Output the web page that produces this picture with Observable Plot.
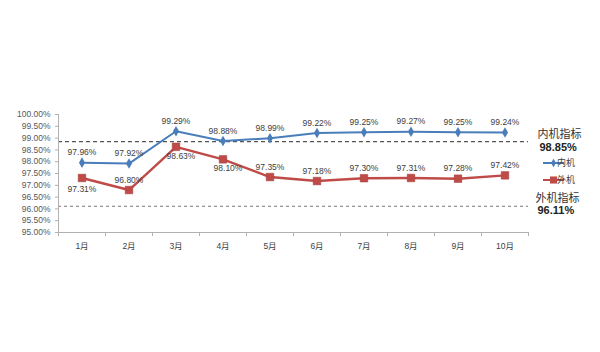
<!DOCTYPE html>
<html><head><meta charset="utf-8">
<script src="https://cdn.jsdelivr.net/npm/d3@7"></script>
<script src="https://cdn.jsdelivr.net/npm/@observablehq/plot@0.6"></script>
<style>
html,body{margin:0;padding:0;background:#fff;}
svg{display:block;}
</style>
</head><body>
<div id="chart"></div>
<script>
const months = ["1月","2月","3月","4月","5月","6月","7月","8月","9月","10月"];
const innerVals = [97.96, 97.92, 99.29, 98.88, 98.99, 99.22, 99.25, 99.27, 99.25, 99.24];
const outerVals = [97.31, 96.80, 98.63, 98.10, 97.35, 97.18, 97.30, 97.31, 97.28, 97.42];
const innerTarget = 98.85;
const outerTarget = 96.11;
const yTicks = [95, 95.5, 96, 96.5, 97, 97.5, 98, 98.5, 99, 99.5, 100];
const seriesNames = ["内机", "外机"];
const targetNames = ["内机指标", "外机指标"];
const outerBelowCenter = new Set([0]);
const outerBelowRight = new Set([2, 3]);

const BLUE = "#4a7ebb", RED = "#be4b48", TXT = "#404040", AX = "#b0b0b0";
const FONT = "'Liberation Sans', 'Noto Sans CJK SC', sans-serif";

const inner = innerVals.map((v, i) => ({i: i + 0.5, v, k: i}));
const outer = outerVals.map((v, i) => ({i: i + 0.5, v, k: i}));
const fmt = v => v.toFixed(2) + "%";

const chart = Plot.plot({
  width: 600, height: 352,
  marginLeft: 58, marginRight: 72, marginTop: 114, marginBottom: 120,
  style: {fontFamily: FONT, fontSize: "8.5px", color: TXT, background: "#fff"},
  x: {domain: [0, 10], axis: null},
  y: {domain: [95, 100], axis: null},
  marks: [
    Plot.ruleY([innerTarget], {stroke: "#555", strokeDasharray: "4,3", strokeWidth: 1.2}),
    Plot.ruleY([outerTarget], {stroke: "#777", strokeDasharray: "3,3", strokeWidth: 1.1}),
    Plot.axisY({ticks: yTicks, tickSize: 3, tickPadding: 5, tickFormat: d => d.toFixed(2) + "%", stroke: AX, fill: "#595959", label: null}),
    Plot.ruleX([0], {stroke: AX}),
    Plot.ruleY([95], {stroke: AX}),
    Plot.axisX({ticks: d3.range(0, 11), tickSize: 4, tickFormat: () => "", stroke: AX, label: null}),
    Plot.axisX({ticks: inner.map(d => d.i), tickSize: 0, tickPadding: 10, tickFormat: (d, k) => months[k], fill: "#404040", label: null}),
    Plot.line(outer, {x: "i", y: "v", stroke: RED, strokeWidth: 2.4}),
    Plot.line(inner, {x: "i", y: "v", stroke: BLUE, strokeWidth: 2}),
    Plot.dot(outer, {x: "i", y: "v", symbol: "square", r: 4.3, fill: RED, stroke: "#a84340", strokeWidth: 0.5}),
    Plot.dot(inner, {x: "i", y: "v", symbol: "diamond", r: 3.2, fill: BLUE}),
    Plot.text(inner, {x: "i", y: "v", text: d => fmt(d.v), dy: -10, fill: TXT}),
    Plot.text(outer.filter(d => !outerBelowCenter.has(d.k) && !outerBelowRight.has(d.k)), {x: "i", y: "v", text: d => fmt(d.v), dy: -10, fill: TXT}),
    Plot.text(outer.filter(d => outerBelowCenter.has(d.k)), {x: "i", y: "v", text: d => fmt(d.v), dy: 11, fill: TXT}),
    Plot.text(outer.filter(d => outerBelowRight.has(d.k)), {x: "i", y: "v", text: d => fmt(d.v), dy: 9, dx: 5, fill: TXT}),
    Plot.text([{t: targetNames[0], v: innerTarget}], {x: () => 10, y: "v", text: "t", dx: 9, dy: -7, textAnchor: "start", fontSize: 11, fill: "#333"}),
    Plot.text([{t: fmt(innerTarget), v: innerTarget}], {x: () => 10, y: "v", text: "t", dx: 11, dy: 6, textAnchor: "start", fontSize: 11, fill: "#222", fontWeight: "bold"}),
    Plot.text([{t: targetNames[1], v: outerTarget}], {x: () => 10, y: "v", text: "t", dx: 7, dy: -8, textAnchor: "start", fontSize: 11, fill: "#333"}),
    Plot.text([{t: fmt(outerTarget), v: outerTarget}], {x: () => 10, y: "v", text: "t", dx: 9, dy: 4, textAnchor: "start", fontSize: 11, fill: "#222", fontWeight: "bold"})
  ]
});

document.getElementById("chart").appendChild(chart);

// legend
const svg = d3.select(chart);
const lg = svg.append("g").attr("font-family", FONT).attr("font-size", 9).attr("fill", "#404040");
const entries = [
  {name: seriesNames[0], color: BLUE, sym: d3.symbolDiamond, size: 22, y: 163},
  {name: seriesNames[1], color: RED, sym: d3.symbolSquare, size: 50, y: 180}
];
entries.forEach(e => {
  const g = lg.append("g").attr("transform", `translate(543,${e.y})`);
  g.append("line").attr("x1", 0).attr("x2", 21).attr("stroke", e.color).attr("stroke-width", 2);
  g.append("path").attr("d", d3.symbol(e.sym, e.size)()).attr("transform", "translate(10.5,0)").attr("fill", e.color);
  g.append("text").attr("x", 23).attr("dy", "0.35em").text(e.name);
});
</script>
</body></html>
